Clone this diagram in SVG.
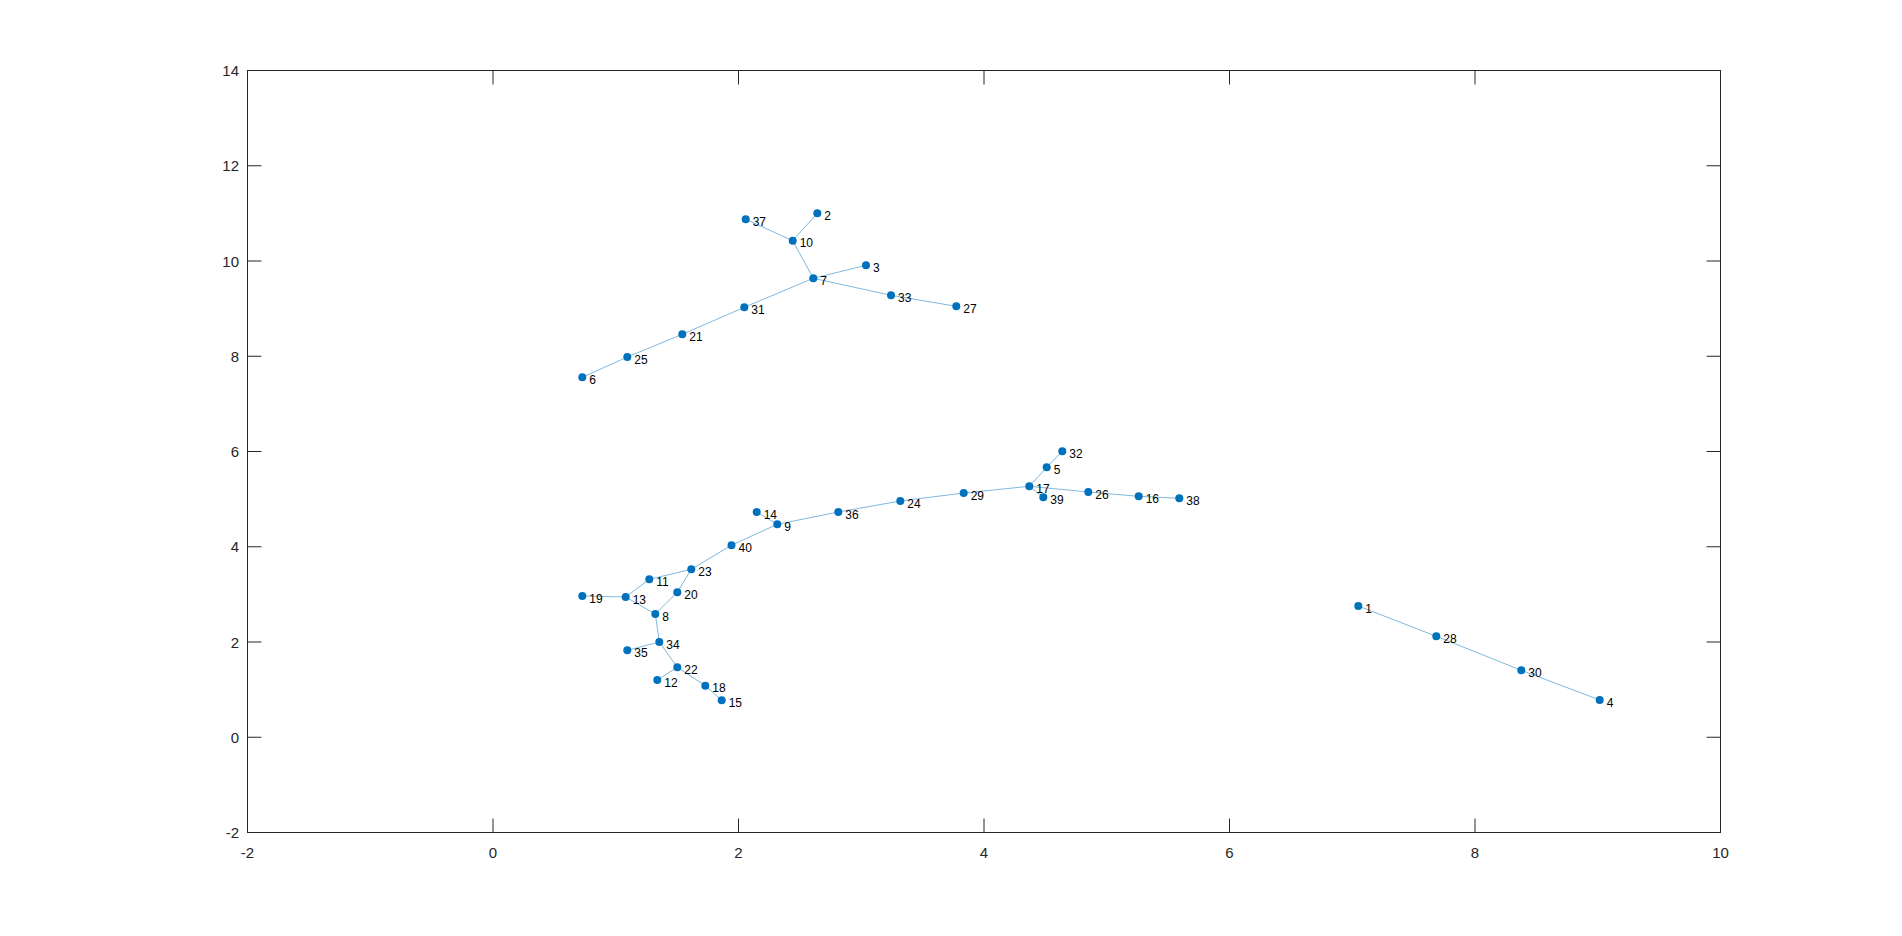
<svg xmlns="http://www.w3.org/2000/svg" width="1902" height="936" viewBox="0 0 1902 936">
<style>
.ax{fill:none;stroke:#262626;stroke-width:1}
.tk{font-family:"Liberation Sans",Arial,sans-serif;font-size:15px;fill:#262626}
.e{stroke:#0072BD;stroke-opacity:0.5;stroke-width:1;fill:none}
.n circle{fill:#0072BD}
.n text{font-family:"Liberation Sans",Arial,sans-serif;font-size:12px;fill:#000}
</style>
<rect width="1902" height="936" fill="#fff"/>
<g id="axes">
<rect class="ax" x="247.5" y="70.5" width="1473" height="762"/>
<path class="ax" d="M493,832.5v-14M738.5,832.5v-14M984,832.5v-14M1229.5,832.5v-14M1475,832.5v-14M493,70.5v14M738.5,70.5v14M984,70.5v14M1229.5,70.5v14M1475,70.5v14M247.5,737.25h14M247.5,642h14M247.5,546.75h14M247.5,451.5h14M247.5,356.25h14M247.5,261h14M247.5,165.75h14M1720.5,737.25h-14M1720.5,642h-14M1720.5,546.75h-14M1720.5,451.5h-14M1720.5,356.25h-14M1720.5,261h-14M1720.5,165.75h-14"/>
<g class="tk" text-anchor="middle">
<text x="247.5" y="858">-2</text><text x="493" y="858">0</text><text x="738.5" y="858">2</text><text x="984" y="858">4</text><text x="1229.5" y="858">6</text><text x="1475" y="858">8</text><text x="1720.5" y="858">10</text>
</g>
<g class="tk" text-anchor="end">
<text x="239" y="838">-2</text><text x="239" y="742.5">0</text><text x="239" y="647.5">2</text><text x="239" y="552">4</text><text x="239" y="457">6</text><text x="239" y="361.5">8</text><text x="239" y="266.5">10</text><text x="239" y="171">12</text><text x="239" y="76">14</text>
</g>
</g>
<g id="edges" class="e">
<path d="M745.7,219.3L792.7,240.7M817.3,213.3L792.7,240.7M792.7,240.7L813.3,278.3M866,265.3L813.3,278.3M813.3,278.3L891,295.3M891,295.3L956.3,306.3M813.3,278.3L744.3,307.3M744.3,307.3L682.3,334.3M682.3,334.3L627.3,357M627.3,357L582.3,377.3"/>
<path d="M756.7,512L777.3,524.3M777.3,524.3L838.3,512M777.3,524.3L731.5,545.2M731.5,545.2L691.3,569.3M691.3,569.3L649.3,579.3M691.3,569.3L677.3,592.3M649.3,579.3L625.7,597M582.3,596L625.7,597M625.7,597L655.3,614M677.3,592.3L655.3,614M655.3,614L659.3,642M659.3,642L627.3,650.3M659.3,642L677.3,667.3M677.3,667.3L657.3,680M677.3,667.3L705.3,685.7M705.3,685.7L721.7,700.3M838.3,512L900.3,501M900.3,501L963.7,493M963.7,493L1029.3,486.3M1029.3,486.3L1046.7,467.3M1046.7,467.3L1062.3,451.3M1029.3,486.3L1043.3,497.3M1029.3,486.3L1088.3,492M1088.3,492L1138.7,496.3M1138.7,496.3L1179.3,498.3"/>
<path d="M1358.3,606L1436.3,636.3M1436.3,636.3L1521.3,670.3M1521.3,670.3L1599.7,700"/>
</g>
<g id="nodes" class="n">
<g id="n1"><circle cx="1358.3" cy="606" r="4"/><text x="1365.3" y="612.5">1</text></g>
<g id="n2"><circle cx="817.3" cy="213.3" r="4"/><text x="824.3" y="219.8">2</text></g>
<g id="n3"><circle cx="866" cy="265.3" r="4"/><text x="873" y="271.8">3</text></g>
<g id="n4"><circle cx="1599.7" cy="700" r="4"/><text x="1606.7" y="706.5">4</text></g>
<g id="n5"><circle cx="1046.7" cy="467.3" r="4"/><text x="1053.7" y="473.8">5</text></g>
<g id="n6"><circle cx="582.3" cy="377.3" r="4"/><text x="589.3" y="383.8">6</text></g>
<g id="n7"><circle cx="813.3" cy="278.3" r="4"/><text x="820.3" y="284.8">7</text></g>
<g id="n8"><circle cx="655.3" cy="614" r="4"/><text x="662.3" y="620.5">8</text></g>
<g id="n9"><circle cx="777.3" cy="524.3" r="4"/><text x="784.3" y="530.8">9</text></g>
<g id="n10"><circle cx="792.7" cy="240.7" r="4"/><text x="799.7" y="247.2">10</text></g>
<g id="n11"><circle cx="649.3" cy="579.3" r="4"/><text x="656.3" y="585.8">11</text></g>
<g id="n12"><circle cx="657.3" cy="680" r="4"/><text x="664.3" y="686.5">12</text></g>
<g id="n13"><circle cx="625.7" cy="597" r="4"/><text x="632.7" y="603.5">13</text></g>
<g id="n14"><circle cx="756.7" cy="512" r="4"/><text x="763.7" y="518.5">14</text></g>
<g id="n15"><circle cx="721.7" cy="700.3" r="4"/><text x="728.7" y="706.8">15</text></g>
<g id="n16"><circle cx="1138.7" cy="496.3" r="4"/><text x="1145.7" y="502.8">16</text></g>
<g id="n17"><circle cx="1029.3" cy="486.3" r="4"/><text x="1036.3" y="492.8">17</text></g>
<g id="n18"><circle cx="705.3" cy="685.7" r="4"/><text x="712.3" y="692.2">18</text></g>
<g id="n19"><circle cx="582.3" cy="596" r="4"/><text x="589.3" y="602.5">19</text></g>
<g id="n20"><circle cx="677.3" cy="592.3" r="4"/><text x="684.3" y="598.8">20</text></g>
<g id="n21"><circle cx="682.3" cy="334.3" r="4"/><text x="689.3" y="340.8">21</text></g>
<g id="n22"><circle cx="677.3" cy="667.3" r="4"/><text x="684.3" y="673.8">22</text></g>
<g id="n23"><circle cx="691.3" cy="569.3" r="4"/><text x="698.3" y="575.8">23</text></g>
<g id="n24"><circle cx="900.3" cy="501" r="4"/><text x="907.3" y="507.5">24</text></g>
<g id="n25"><circle cx="627.3" cy="357" r="4"/><text x="634.3" y="363.5">25</text></g>
<g id="n26"><circle cx="1088.3" cy="492" r="4"/><text x="1095.3" y="498.5">26</text></g>
<g id="n27"><circle cx="956.3" cy="306.3" r="4"/><text x="963.3" y="312.8">27</text></g>
<g id="n28"><circle cx="1436.3" cy="636.3" r="4"/><text x="1443.3" y="642.8">28</text></g>
<g id="n29"><circle cx="963.7" cy="493" r="4"/><text x="970.7" y="499.5">29</text></g>
<g id="n30"><circle cx="1521.3" cy="670.3" r="4"/><text x="1528.3" y="676.8">30</text></g>
<g id="n31"><circle cx="744.3" cy="307.3" r="4"/><text x="751.3" y="313.8">31</text></g>
<g id="n32"><circle cx="1062.3" cy="451.3" r="4"/><text x="1069.3" y="457.8">32</text></g>
<g id="n33"><circle cx="891" cy="295.3" r="4"/><text x="898" y="301.8">33</text></g>
<g id="n34"><circle cx="659.3" cy="642" r="4"/><text x="666.3" y="648.5">34</text></g>
<g id="n35"><circle cx="627.3" cy="650.3" r="4"/><text x="634.3" y="656.8">35</text></g>
<g id="n36"><circle cx="838.3" cy="512" r="4"/><text x="845.3" y="518.5">36</text></g>
<g id="n37"><circle cx="745.7" cy="219.3" r="4"/><text x="752.7" y="225.8">37</text></g>
<g id="n38"><circle cx="1179.3" cy="498.3" r="4"/><text x="1186.3" y="504.8">38</text></g>
<g id="n39"><circle cx="1043.3" cy="497.3" r="4"/><text x="1050.3" y="503.8">39</text></g>
<g id="n40"><circle cx="731.5" cy="545.2" r="4"/><text x="738.5" y="551.7">40</text></g>
</g>
</svg>
